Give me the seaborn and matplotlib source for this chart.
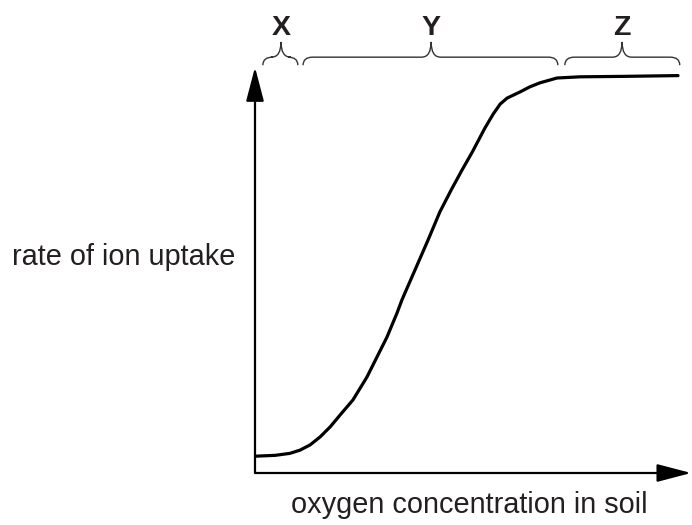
import matplotlib
matplotlib.use("Agg")
import matplotlib.pyplot as plt
from matplotlib.path import Path
from matplotlib.patches import PathPatch
import seaborn as sns

# oxygen concentration (arbitrary units, 0-100) vs rate of ion uptake (0-100)
oxygen = [0.2, 4.6, 8.0, 10.3, 12.6, 14.9, 17.2, 19.5, 22.4, 25.6, 27.9,
          30.2, 32.5, 33.6, 36.6, 39.6, 42.3, 44.9, 47.4, 49.7, 52.6, 54.5,
          56.1, 57.7, 60.6, 62.9, 65.2, 69.1, 74.4, 83.5, 96.8]
uptake = [4.2, 4.4, 4.9, 5.7, 7.0, 9.0, 11.5, 14.5, 18.2, 23.9, 28.9,
          33.9, 39.9, 43.1, 50.6, 58.1, 65.1, 70.6, 75.6, 80.0, 86.0, 89.5,
          92.0, 93.5, 95.0, 96.3, 97.3, 98.5, 98.8, 98.9, 99.1]

# phases marked above the graph
phase_labels = ["X", "Y", "Z"]
phase_start = [1.8, 11.0, 70.9]
phase_end = [9.8, 69.3, 97.2]
phase_tip = [5.95, 40.3, 84.0]

x_label = "oxygen concentration in soil"
y_label = "rate of ion uptake"

INK = "#231f20"

sns.set_theme(style="white")
plt.rcParams["font.family"] = ["Liberation Sans", "DejaVu Sans"]

fig = plt.figure(figsize=(6.92, 5.25), dpi=100)
ax = fig.add_axes([255 / 692, 52 / 525, 437 / 692, 401 / 525])

sns.lineplot(x=oxygen, y=uptake, ax=ax, color="black", linewidth=2.3,
             sort=True, estimator=None, solid_joinstyle="round",
             solid_capstyle="round")

ax.set_xlim(0, 100)
ax.set_ylim(0, 100)
ax.set_xticks([])
ax.set_yticks([])
for s in ax.spines.values():
    s.set_visible(False)

# axes with arrow heads
arrow = dict(arrowstyle="-|>,head_length=2.1,head_width=0.55", mutation_scale=10,
             color="black", lw=1.6, shrinkA=0, shrinkB=0)
ax.annotate("", xy=(0, 101.2), xytext=(0, 0), arrowprops=arrow,
            annotation_clip=False)
ax.annotate("", xy=(99.8, 0), xytext=(0, 0), arrowprops=arrow,
            annotation_clip=False)


def brace(x0, x1, xm, y_end=101.7, y_line=103.7, y_tip=107.5, r=2.2):
    verts = [(x0, y_end), (x0, y_line), (x0 + r, y_line),
             (xm - r, y_line), (xm, y_line), (xm, y_tip),
             (xm, y_line), (xm + r, y_line),
             (x1 - r, y_line), (x1, y_line), (x1, y_end)]
    codes = [Path.MOVETO, Path.CURVE3, Path.CURVE3,
             Path.LINETO, Path.CURVE3, Path.CURVE3,
             Path.CURVE3, Path.CURVE3,
             Path.LINETO, Path.CURVE3, Path.CURVE3]
    ax.add_patch(PathPatch(Path(verts, codes), fill=False, edgecolor="#333333",
                           lw=1.0, clip_on=False))


for lab, a, b, m in zip(phase_labels, phase_start, phase_end, phase_tip):
    brace(a, b, m)
    ax.text(m, 109.2, lab, ha="center", va="baseline", fontsize=20.5,
            fontweight="bold", color=INK, clip_on=False)

ax.text(49.0, -10.0, x_label, ha="center", va="baseline", fontsize=20.8,
        color=INK, clip_on=False)
ax.text(-55.6, 51.9, y_label, ha="left", va="baseline", fontsize=20.8,
        color=INK, clip_on=False)

fig.savefig("out.png", dpi=100)
